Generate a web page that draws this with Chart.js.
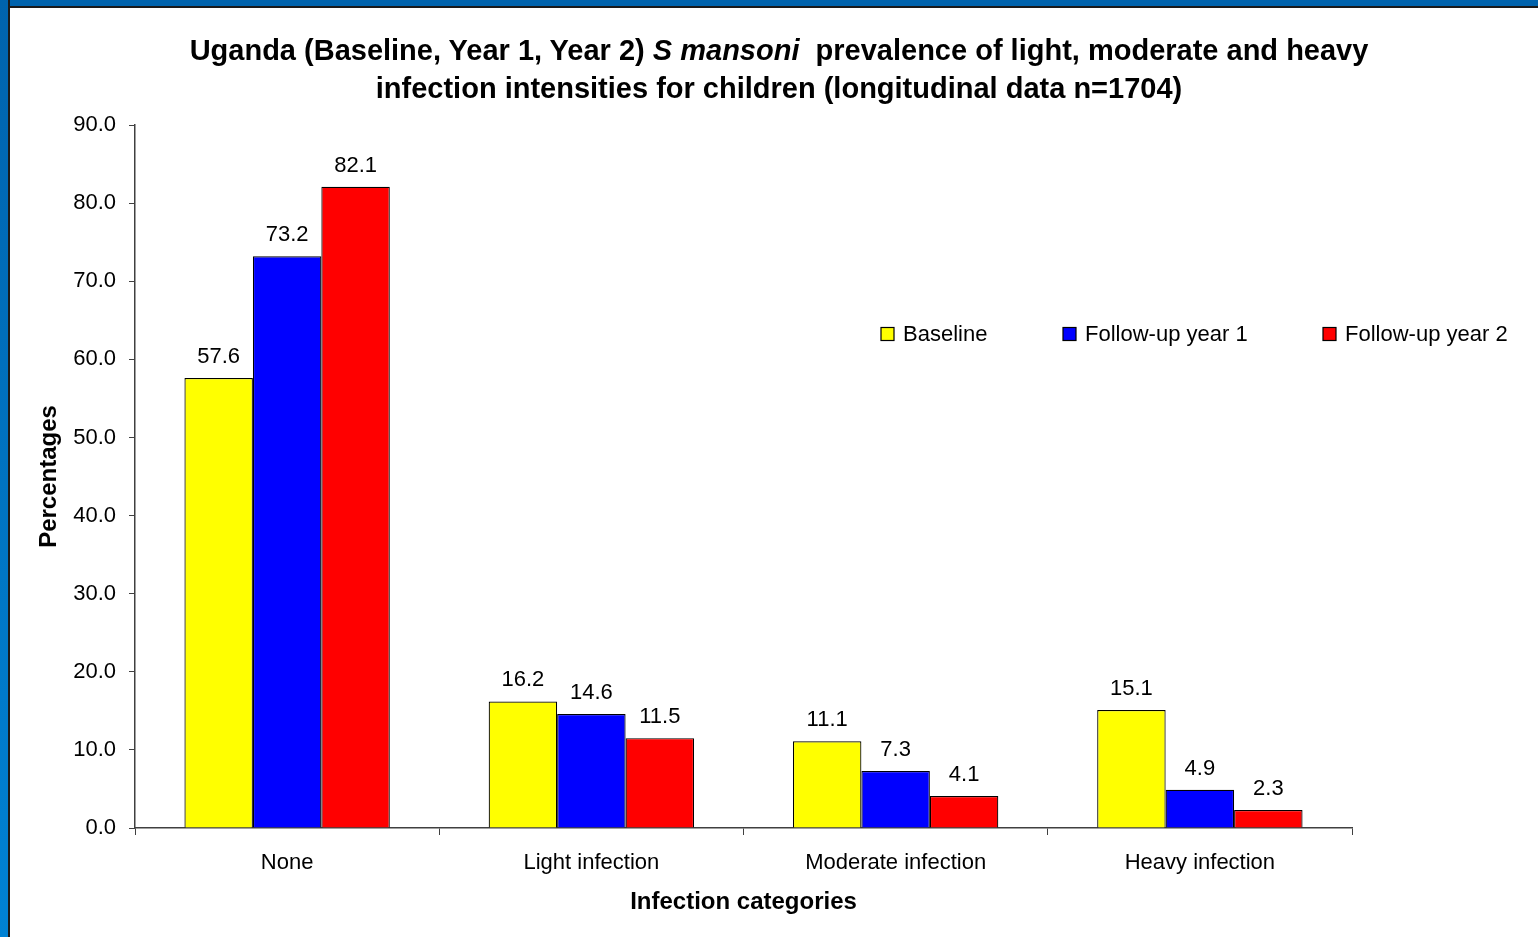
<!DOCTYPE html>
<html>
<head>
<meta charset="utf-8">
<script src="https://cdn.jsdelivr.net/npm/chart.js@4.4.1/dist/chart.umd.min.js"></script>
<style>
  body { margin: 0; background: #fff; }
  #wrap { position: relative; width: 1538px; height: 937px; overflow: hidden; }
  #frameTop { position: absolute; left: 0; top: 0; width: 1538px; height: 6px; background: #0063ad; border-bottom: 2px solid #1a1a1a; }
  #frameLeft { position: absolute; left: 0; top: 0; width: 8px; height: 937px; background: linear-gradient(#0063ad, #0082d4); border-right: 2px solid #1a1a1a; }
  #title { position: absolute; left: 0; top: 31px; width: 1558px; text-align: center;
           font: bold 29px "Liberation Sans", Arial, sans-serif; line-height: 38px; color: #000; }
  canvas { position: absolute; left: 0; top: 0; }
</style>
</head>
<body>
<div id="wrap">
  <canvas id="myChart" width="1538" height="937"></canvas>
  <div id="frameTop"></div>
  <div id="frameLeft"></div>
  <div id="title">Uganda (Baseline, Year 1, Year 2) <i>S mansoni</i>&nbsp; prevalence of light, moderate and heavy<br>infection intensities for children (longitudinal data n=1704)</div>
</div>
<script>
// DATA
var categories = ['None', 'Light infection', 'Moderate infection', 'Heavy infection'];
var baseline = [57.6, 16.2, 11.1, 15.1];
var followUp1 = [73.2, 14.6, 7.3, 4.9];
var followUp2 = [82.1, 11.5, 4.1, 2.3];
var yTicks = [0, 10, 20, 30, 40, 50, 60, 70, 80, 90];

var FONT = '"Liberation Sans", Arial, sans-serif';

// value labels above bars
var valueLabels = {
    id: 'valueLabels',
    afterDatasetsDraw: function(chart){
        var ctx = chart.ctx;
        ctx.save();
        ctx.font = '22px ' + FONT;
        ctx.fillStyle = '#000';
        ctx.textAlign = 'center';
        ctx.textBaseline = 'alphabetic';
        chart.data.datasets.forEach(function(ds, i){
            chart.getDatasetMeta(i).data.forEach(function(bar, j){
                ctx.fillText(ds.data[j].toFixed(1), bar.x, bar.y - 15);
            });
        });
        ctx.restore();
    }
};

// legend drawn where the original has it
var legendLeft = [881, 1063, 1323];
var customLegend = {
    id: 'customLegend',
    afterDraw: function(chart){
        var ctx = chart.ctx;
        ctx.save();
        ctx.font = '22px ' + FONT;
        ctx.textBaseline = 'middle';
        chart.data.datasets.forEach(function(ds, i){
            var x = legendLeft[i], y = 334;
            ctx.fillStyle = ds.backgroundColor;
            ctx.fillRect(x, y - 6.5, 13, 13);
            ctx.strokeStyle = '#000';
            ctx.lineWidth = 1.2;
            ctx.strokeRect(x, y - 6.5, 13, 13);
            ctx.fillStyle = '#000';
            ctx.fillText(ds.label, x + 22, y + 1);
        });
        ctx.restore();
    }
};

var ctx = document.getElementById('myChart').getContext('2d');
var chart = new Chart(ctx, {
    type: 'bar',
    data: {
        labels: categories,
        datasets: [{
            label: 'Baseline',
            backgroundColor: '#ffff00',
            borderColor: '#000',
            borderWidth: 1.2,
            data: baseline
        }, {
            label: 'Follow-up year 1',
            backgroundColor: '#0000ff',
            borderColor: '#000',
            borderWidth: 1.2,
            data: followUp1
        }, {
            label: 'Follow-up year 2',
            backgroundColor: '#ff0000',
            borderColor: '#000',
            borderWidth: 1.2,
            data: followUp2
        }]
    },
    options: {
        responsive: false,
        animation: false,
        categoryPercentage: 0.675,
        barPercentage: 1.0,
        layout: { padding: { left: 31, right: 186, top: 125, bottom: 16 } },
        plugins: {
            legend: { display: false },
            tooltip: { enabled: false }
        },
        scales: {
            x: {
                grid: { drawOnChartArea: false, drawTicks: true, tickLength: 7, color: '#404040', offset: true },
                border: { color: '#404040', width: 1.5 },
                ticks: { color: '#000', font: { family: FONT, size: 22 }, padding: 15 },
                title: { display: true, text: 'Infection categories', color: '#000',
                         font: { family: FONT, size: 24, weight: 'bold' }, padding: { top: 16 } },
                afterFit: function(scale){ scale.height = 937 - 828 - 16; }
            },
            y: {
                min: 0, max: 90,
                afterBuildTicks: function(scale){ scale.ticks = yTicks.map(function(v){ return { value: v }; }); },
                grid: { drawOnChartArea: false, drawTicks: true, tickLength: 6, color: '#404040' },
                border: { color: '#404040', width: 1.5 },
                ticks: { color: '#000', font: { family: FONT, size: 22 }, padding: 13 },
                title: { display: true, text: 'Percentages', color: '#000',
                         font: { family: FONT, size: 24, weight: 'bold' }, padding: { bottom: 10 } },
                afterFit: function(scale){ scale.width = 135 - 31; }
            }
        }
    },
    plugins: [valueLabels, customLegend]
});
chart.options.scales.y.ticks.callback = function(v){ return v.toFixed(1); };
chart.update();
</script>
</body>
</html>
